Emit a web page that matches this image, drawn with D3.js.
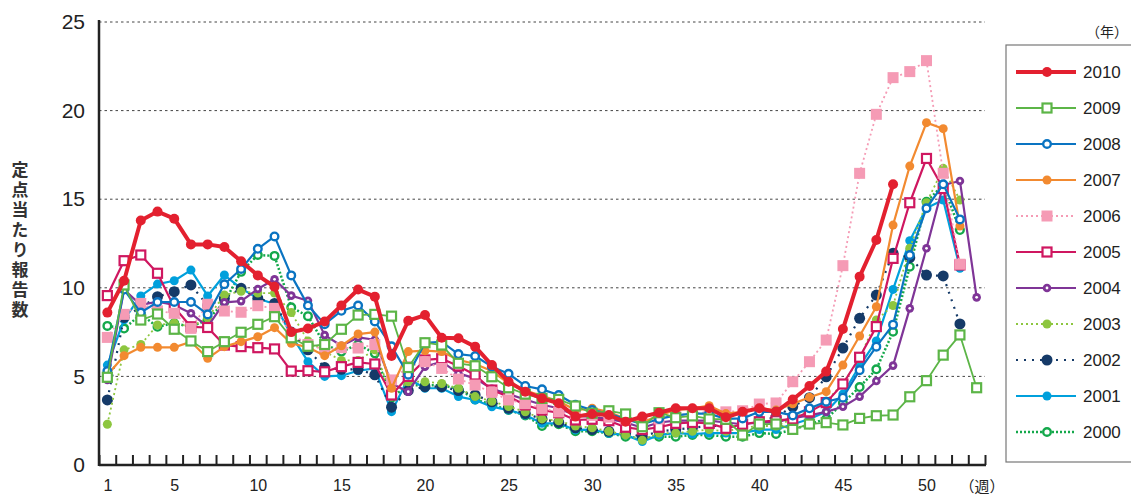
<!DOCTYPE html>
<html>
<head>
<meta charset="utf-8">
<script src="https://cdn.jsdelivr.net/npm/d3@7"></script>
<style>
  body { margin: 0; background: #fff; }
  svg { display: block; font-family: "Liberation Sans", Arial, sans-serif; }
</style>
</head>
<body>
<div id="chart"></div>
<script>
// weekly values per year (index 0 = week 1)
const y2010 = [8.6,10.4,13.8,14.3,13.9,12.45,12.45,12.3,11.5,10.7,10.06,7.5,7.7,8.1,9.0,9.9,9.5,6.15,8.14,8.46,7.18,7.15,6.68,5.64,4.7,4.14,3.76,3.48,2.73,2.88,2.82,2.44,2.73,2.95,3.2,3.2,3.2,2.69,3.0,3.2,3.0,3.7,4.46,5.27,7.67,10.63,12.7,15.84];
const y2009 = [4.95,10.16,8.18,8.52,7.66,7.0,6.4,6.96,7.49,7.94,8.37,7.18,6.7,6.8,7.66,8.46,8.5,8.4,5.5,6.9,6.77,5.74,5.6,4.98,4.36,4.0,3.76,3.7,3.33,2.92,3.06,2.88,2.16,2.95,2.67,2.77,2.6,2.58,1.69,2.31,2.31,2.01,2.31,2.39,2.26,2.63,2.78,2.82,3.85,4.76,6.2,7.34,4.36];
const y2008 = [5.3,9.9,8.6,9.2,9.2,9.2,8.5,10.2,11.06,12.2,12.9,10.7,9.0,7.95,8.7,9.0,8.1,6.7,5.1,6.9,6.95,6.26,6.15,5.55,5.15,4.46,4.27,3.95,3.4,3.1,2.9,2.6,2.3,2.6,2.8,2.9,2.9,2.6,2.63,3.0,3.0,2.8,3.2,3.57,3.8,5.35,6.68,7.92,11.85,14.49,15.84,13.86];
const y2007 = [5.08,6.17,6.64,6.64,6.64,6.96,6.02,6.68,6.96,7.24,7.75,6.87,6.64,6.17,6.73,7.39,7.5,4.33,6.4,6.45,6.4,5.93,5.7,5.3,4.6,4.2,3.9,3.6,3.1,3.2,3.0,2.6,2.4,2.8,3.1,3.2,3.35,2.9,3.0,3.2,3.1,3.45,3.82,4.14,5.64,7.28,8.93,13.54,16.87,19.32,18.98,13.49];
const y2006 = [7.2,8.5,9.12,8.7,8.56,7.71,9.07,8.69,8.62,8.99,8.84,7.4,6.8,6.5,6.62,6.6,6.8,4.8,5.55,5.83,5.45,4.85,4.51,4.1,3.67,3.46,3.2,3.0,2.9,2.8,2.7,2.6,2.5,2.6,2.8,2.9,3.0,3.0,3.06,3.44,3.5,4.7,5.83,7.05,11.25,16.46,19.79,21.86,22.2,22.82,16.46,11.33];
const y2005 = [9.56,11.53,11.85,10.82,8.9,7.8,7.76,6.77,6.68,6.62,6.55,5.3,5.32,5.26,5.55,5.79,5.7,3.95,5.0,5.93,6.0,5.59,5.08,4.23,3.86,3.39,3.1,2.95,2.54,2.58,2.5,2.13,2.0,2.13,2.35,2.4,2.35,2.07,2.3,2.44,2.5,2.6,3.0,3.52,4.57,6.08,7.81,11.66,14.8,17.3,15.6,11.29];
const y2004 = [4.8,9.9,9.03,9.22,9.03,8.56,7.81,9.18,9.25,9.93,10.48,9.56,9.27,7.33,6.73,7.2,7.07,4.6,4.14,5.55,5.83,5.17,4.89,4.3,4.0,3.7,3.4,3.2,2.8,2.7,2.6,2.4,2.1,2.4,2.5,2.5,2.5,2.4,2.3,2.4,2.4,2.65,2.8,3.0,3.29,3.86,4.74,5.61,8.84,12.23,15.8,16.03,9.46];
const y2003 = [2.3,6.5,6.8,7.9,8.0,7.8,8.3,9.6,9.8,9.7,9.7,8.6,7.0,6.4,5.9,5.9,6.5,3.9,4.7,4.7,4.6,4.33,3.86,3.6,3.3,3.0,2.6,2.5,2.2,2.1,1.9,1.7,1.4,1.8,1.8,1.9,2.0,1.9,2.1,2.2,2.2,2.6,3.1,3.6,4.6,6.0,8.18,9.0,12.23,14.8,16.74,14.95];
const y2002 = [3.67,8.33,8.9,9.5,9.78,10.16,9.0,9.4,9.97,9.4,9.12,7.5,6.5,5.5,5.4,5.4,5.09,3.26,4.2,4.42,4.42,4.2,3.95,3.57,3.2,2.9,2.6,2.4,2.1,2.0,1.9,1.8,1.6,1.9,2.0,2.1,2.2,2.2,2.3,2.5,2.7,3.3,3.8,4.98,6.6,8.28,9.59,11.95,11.7,10.72,10.67,7.96];
const y2001 = [5.64,8.2,9.54,10.21,10.4,11.0,9.54,10.72,9.97,9.4,9.09,7.34,5.83,5.0,5.04,5.32,5.45,3.01,4.89,4.33,4.33,3.86,3.67,3.29,3.1,2.82,2.35,2.35,1.98,2.0,1.79,1.7,1.32,1.7,1.8,1.75,1.8,1.8,1.8,2.0,2.0,2.3,2.6,3.0,4.0,5.6,7.0,9.91,12.66,14.5,14.95,11.1];
const y2000 = [7.85,7.7,8.5,7.8,8.0,7.8,8.2,9.2,10.9,11.85,11.8,8.9,8.4,6.8,6.4,6.8,6.3,3.8,4.5,4.5,4.5,4.3,3.7,3.4,3.1,2.8,2.2,2.3,1.9,1.9,1.8,1.6,1.5,1.6,1.6,1.7,1.7,1.6,1.6,1.8,1.75,2.0,2.3,2.6,3.5,4.4,5.4,7.52,11.19,14.86,15.8,13.26];

const years = ["2010","2009","2008","2007","2006","2005","2004","2003","2002","2001","2000"];
const values = [y2010,y2009,y2008,y2007,y2006,y2005,y2004,y2003,y2002,y2001,y2000];
const yTicks = [0,5,10,15,20,25];
const xTicks = [1,5,10,15,20,25,30,35,40,45,50];
const yLabel = "定点当たり報告数";

// look of each year, same order as years
const looks = [
  {color:"#e3202f", width:4,   dash:null,  mark:"dot",    r:5},
  {color:"#5cb547", width:1.8, dash:null,  mark:"square", r:5.5},
  {color:"#0a74c2", width:2.2, dash:null,  mark:"ring",   r:4.3},
  {color:"#f28a30", width:2.2, dash:null,  mark:"dot",    r:4.5},
  {color:"#f59bb5", width:1.8, dash:"2,3", mark:"block",  r:5.5},
  {color:"#cf1760", width:2.2, dash:null,  mark:"square", r:5.5},
  {color:"#7f3597", width:2.2, dash:null,  mark:"eye",    r:4.3},
  {color:"#8dc63f", width:1.8, dash:"2,3", mark:"dot",    r:4.5},
  {color:"#153a68", width:2.2, dash:"2,6", mark:"dot",    r:5.5},
  {color:"#00a0dc", width:2.2, dash:null,  mark:"dot",    r:4.5},
  {color:"#14a84b", width:2.5, dash:"2,2", mark:"ring",   r:4.3}
];

const W = 1131, H = 495;
const svg = d3.select("#chart").append("svg")
    .attr("width", W).attr("height", H);

let x = d3.scaleLinear().domain([0.5, 53.5]).range([99, 985]);
let y = d3.scaleLinear().domain([0, 25]).range([465, 22]);

// dotted grid
svg.append("g").selectAll("line")
    .data(yTicks.filter(d => d > 0))
    .enter().append("line")
    .attr("x1", 99).attr("x2", 985)
    .attr("y1", d => y(d)).attr("y2", d => y(d))
    .style("stroke", "#444").style("stroke-width", 1)
    .style("stroke-dasharray", "2.5,3");

// y axis labels
let yAxis = d3.axisLeft(y).tickValues(yTicks).tickSize(0).tickPadding(14);
let gy = svg.append("g").attr("transform", "translate(99,0)").call(yAxis);
gy.select(".domain").remove();
gy.selectAll("text").style("font-size", "21px").style("fill", "#222");

// x axis: inward ticks between weeks
let xAxis = d3.axisTop(x).tickValues(d3.range(0.5, 54, 1)).tickSize(10).tickFormat("");
let gx = svg.append("g").attr("transform", "translate(0,465)").call(xAxis);
gx.select(".domain").remove();
gx.selectAll("line").style("stroke", "#222").style("stroke-width", 2);

let xLab = d3.axisBottom(x).tickValues(xTicks).tickSize(0).tickPadding(15);
let gl = svg.append("g").attr("transform", "translate(0,465)").call(xLab);
gl.select(".domain").remove();
gl.selectAll("text").style("font-size", "16px").style("fill", "#222");

svg.append("line").attr("x1", 99).attr("x2", 986).attr("y1", 465).attr("y2", 465)
    .style("stroke", "#222").style("stroke-width", 2.5);
svg.append("line").attr("x1", 99).attr("x2", 99).attr("y1", 20).attr("y2", 466)
    .style("stroke", "#222").style("stroke-width", 2.5);

svg.append("text").attr("x", 982).attr("y", 492)
    .attr("text-anchor", "middle")
    .style("font-family", "'Noto Sans CJK JP'").style("font-size", "15px").style("fill", "#222")
    .text("（週）");

// vertical y label
svg.append("text")
    .attr("x", 20).attr("y", 241)
    .attr("text-anchor", "middle")
    .style("writing-mode", "vertical-rl")
    .style("letter-spacing", "3px")
    .style("font-family", "'Noto Sans CJK JP'").style("font-size", "17px")
    .style("font-weight", "bold").style("fill", "#333")
    .text(yLabel);

function marker(g, look, cx, cy) {
    const r = look.r;
    if (look.mark === "square" || look.mark === "block") {
        g.append("rect")
            .attr("x", cx - r + 1).attr("y", cy - r + 1)
            .attr("width", 2 * r - 2).attr("height", 2 * r - 2)
            .style("fill", look.mark === "block" ? look.color : "#fff")
            .style("stroke", look.color).style("stroke-width", look.mark === "block" ? 2 : 2.2);
    } else if (look.mark === "ring") {
        g.append("circle").attr("cx", cx).attr("cy", cy).attr("r", r - 0.5)
            .style("fill", "#fff").style("stroke", look.color).style("stroke-width", 2.4);
    } else if (look.mark === "eye") {
        g.append("circle").attr("cx", cx).attr("cy", cy).attr("r", r)
            .style("fill", look.color);
        g.append("circle").attr("cx", cx).attr("cy", cy).attr("r", 1.4)
            .style("fill", "#fff");
    } else {
        g.append("circle").attr("cx", cx).attr("cy", cy).attr("r", r)
            .style("fill", look.color);
    }
}

let line = d3.line().x((d, i) => x(i + 1)).y(d => y(d));

// draw oldest first so 2010 ends on top
for (let k = years.length - 1; k >= 0; k--) {
    const look = looks[k];
    let g = svg.append("g").attr("class", "series-" + years[k]);
    g.append("path")
        .datum(values[k])
        .attr("d", line)
        .style("fill", "none")
        .style("stroke", look.color)
        .style("stroke-width", look.width)
        .style("stroke-linejoin", "round")
        .style("stroke-dasharray", look.dash);
    values[k].forEach((v, i) => marker(g, look, x(i + 1), y(v)));
}

// legend
svg.append("rect").attr("x", 1006).attr("y", 45).attr("width", 140).attr("height", 417)
    .style("fill", "#fff").style("stroke", "#777").style("stroke-width", 1.2);
svg.append("text").attr("x", 1086).attr("y", 37)
    .style("font-family", "'Noto Sans CJK JP'").style("font-size", "14px").style("fill", "#222")
    .text("（年）");

years.forEach((yr, i) => {
    const look = looks[i];
    const ly = 72 + i * 36;
    let g = svg.append("g");
    g.append("line").attr("x1", 1016).attr("x2", 1076).attr("y1", ly).attr("y2", ly)
        .style("stroke", look.color).style("stroke-width", look.width)
        .style("stroke-dasharray", look.dash);
    marker(g, look, 1047, ly);
    g.append("text").attr("x", 1083).attr("y", ly + 6)
        .style("font-size", "17px").style("fill", "#222").text(yr);
});
</script>
</body>
</html>
